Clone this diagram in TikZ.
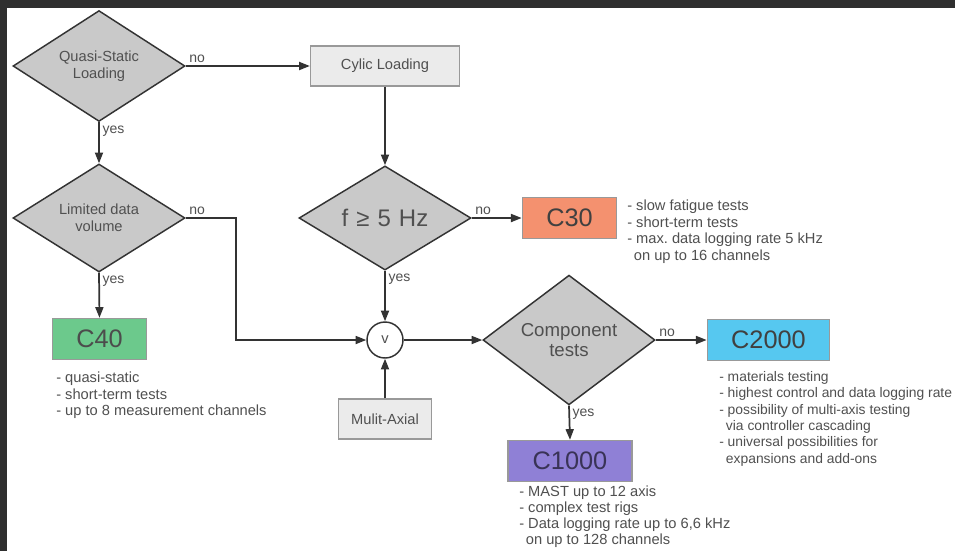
\documentclass[tikz,border=0pt]{standalone}
\usepackage{fontspec}
\setmainfont{Liberation Sans}
\usetikzlibrary{shapes.geometric,arrows.meta}

\definecolor{framegray}{HTML}{2F2F2F}
\definecolor{linegray}{HTML}{333333}
\definecolor{textgray}{HTML}{505050}
\definecolor{diagray}{HTML}{C9C9C9}
\definecolor{boxgray}{HTML}{EBEBEB}
\definecolor{salmon}{HTML}{F4916F}
\definecolor{mint}{HTML}{6CC98C}
\definecolor{skyblue}{HTML}{56C8F0}
\definecolor{lavender}{HTML}{8F80D6}

\begin{document}
\frenchspacing
\begin{tikzpicture}[x=0.75pt, y=-0.75pt,
    arr/.style={-{Triangle[length=8pt,width=6pt]}, line width=1.3pt, draw=linegray},
    decision/.style={diamond, draw=linegray, fill=diagray, line width=1.1pt, minimum width=129pt,
        minimum height=75pt, inner sep=0pt, align=center, text=textgray, font=\fontsize{11}{13}\selectfont},
    stepbox/.style={rectangle, draw=gray!80, fill=boxgray, line width=0.8pt, minimum height=30pt,
        text=textgray, font=\fontsize{11}{13}\selectfont},
    device/.style={rectangle, draw=gray!80, line width=0.8pt, minimum height=31pt,
        font=\fontsize{19}{22}\selectfont},
    notes/.style={anchor=north west, inner sep=0pt, align=left, text=textgray,
        font=\fontsize{11}{12.3}\selectfont},
    answer/.style={inner sep=2pt, text=textgray, font=\fontsize{10.5}{12}\selectfont}]

    \useasboundingbox (0,0) rectangle (955,551);
    \fill[framegray] (0,0) rectangle (955,551);
    \fill[white] (7,8) rectangle (955,551);

    \node[decision] (QS) at (99, 66) {Quasi-Static\\Loading};
    \node[stepbox, minimum width=112pt] (CL) at (385, 66) {Cylic Loading};
    \node[decision] (LD) at (99, 218) {Limited data\\volume};
    \node[decision, font=\fontsize{18}{20}\selectfont] (FH) at (385, 218) {f\,\,≥\,\,5\,\,Hz};
    \node[device, fill=salmon, minimum width=71pt, text=black!75] (C30) at (569.5, 218) {C30};
    \node[device, fill=mint, minimum width=70pt, text=black!70] (C40) at (99.5, 339) {C40};
    \node[circle, draw=linegray, line width=1.1pt, fill=white, minimum size=27pt, inner sep=0pt,
        text=textgray, font=\fontsize{11}{13}\selectfont] (OR) at (385, 340) {v};
    \node[stepbox, minimum width=70pt] (MA) at (385, 419) {Mulit-Axial};
    \node[decision, font=\fontsize{14}{15}\selectfont] (CT) at (569, 340) {Component\\tests};
    \node[device, fill=skyblue, minimum width=92pt, text=black!75] (C2) at (768.5, 340) {C2000};
    \node[device, fill=lavender, minimum width=93pt, text=lavender!40!black] (C1) at (570, 461) {C1000};

    % notes beside the devices
    \node[notes] (N30) at (627, 200) {- slow fatigue tests\\- short-term tests\\- max. data logging rate 5 kHz\\\hspace{5pt}on up to 16 channels};
    \node[notes] (N40) at (56, 372) {- quasi-static\\- short-term tests\\- up to 8 measurement channels};
    \node[notes, font=\fontsize{10.4}{12.3}\selectfont] (N2) at (719, 371) {- materials testing\\- highest control and data logging rate\\- possibility of multi-axis testing\\\hspace{5pt}via controller cascading\\- universal possibilities for\\\hspace{5pt}expansions and add-ons};
    \node[notes, font=\fontsize{11}{12}\selectfont] (N1) at (519, 486) {- MAST up to 12 axis\\- complex test rigs\\- Data logging rate up to 6,6 kHz\\\hspace{5pt}on up to 128 channels};

    \draw[arr] (QS.east) -- node[answer, anchor=south west, pos=0] {no} (CL.west);
    \draw[arr] (QS.south) -- node[answer, anchor=north west, pos=0] {yes} (LD.north);
    \draw[arr] (CL.south) -- (FH.north);
    \draw[arr] (LD.south) -- node[answer, anchor=north west, pos=0] {yes} (C40.north);
    \draw[arr] (LD.east) -- node[answer, anchor=south west, pos=0] {no} (236, 218) |- (OR.west);
    \draw[arr] (FH.east) -- node[answer, anchor=south west, pos=0] {no} (C30.west);
    \draw[arr] (FH.south) -- node[answer, anchor=north west, pos=0] {yes} (OR.north);
    \draw[arr] (MA.north) -- (OR.south);
    \draw[arr] (OR.east) -- (CT.west);
    \draw[arr] (CT.east) -- node[answer, anchor=south west, pos=0] {no} (C2.west);
    \draw[arr] (CT.south) -- node[answer, anchor=north west, pos=0] {yes} (C1.north);
\end{tikzpicture}
\end{document}
